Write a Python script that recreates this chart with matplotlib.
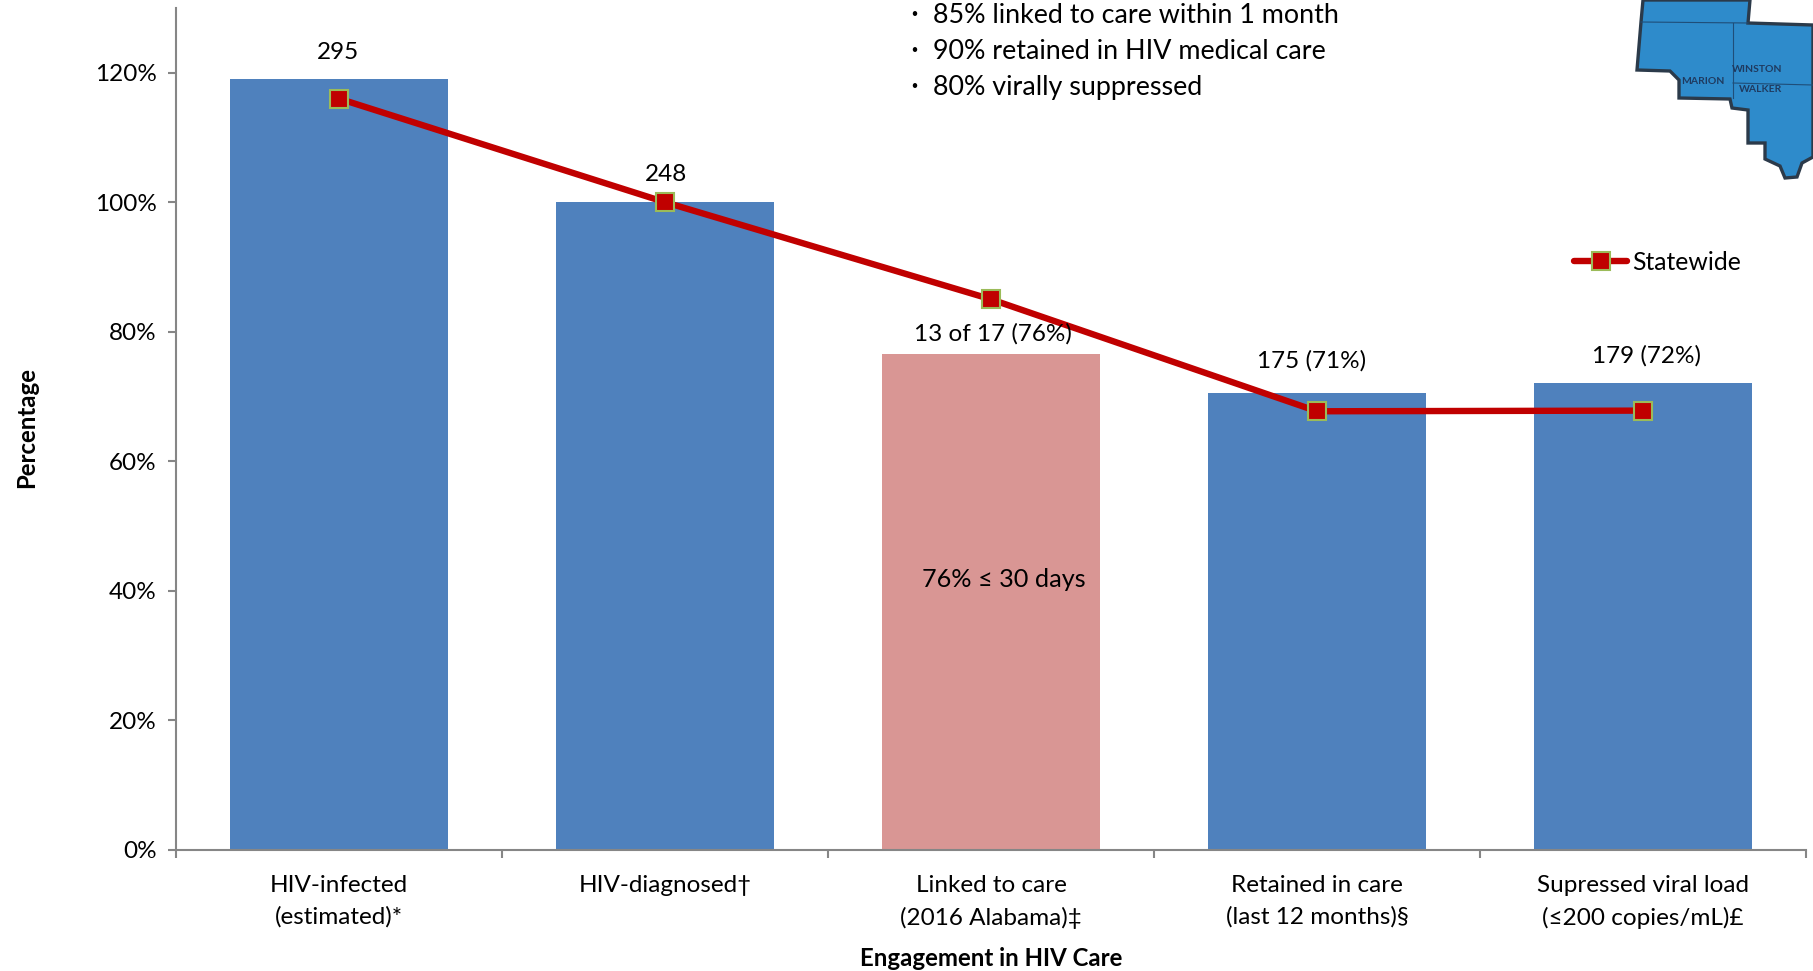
import matplotlib
matplotlib.use('Agg')
import matplotlib.pyplot as plt
from matplotlib.patches import Polygon
from matplotlib.lines import Line2D

plt.rcParams['font.family'] = ['Lato', 'DejaVu Sans']

W, H = 1813, 971

# -------------------------------------
# Data
# -------------------------------------
categories = ['HIV-infected\n(estimated)*', 'HIV-diagnosed\u2020\n ',
              'Linked to care\n(2016 Alabama)\u2021',
              'Retained in care\n(last 12 months)\u00a7',
              'Supressed viral load\n(\u2264200 copies/mL)\u00a3']
bar_values = [119, 100, 76.5, 70.5, 72]
bar_colors = ['#4F81BD', '#4F81BD', '#D99694', '#4F81BD', '#4F81BD']
statewide = [116, 100, 85, 67.7, 67.8]
bar_labels = ['295', '248', '13 of 17 (76%)', '175 (71%)', '179 (72%)']
label_x = [-0.004, 1.002, 2.006, 2.984, 4.012]
label_y = [123.1, 104.3, 79.6, 75.5, 76.3]
yticks = [0, 20, 40, 60, 80, 100, 120]
goals = ['85% linked to care within 1 month',
         '90% retained in HIV medical care',
         '80% virally suppressed']

# map outline traced in full size picture pixels
map_outline = [(1643, 0), (1641, 22), (1637, 70), (1670, 71), (1679, 80), (1679, 98),
               (1730, 99), (1732, 108), (1748, 110), (1748, 143), (1765, 143),
               (1765, 159), (1780, 166), (1785, 178), (1797, 177), (1802, 163),
               (1813, 157), (1813, 25), (1748, 23), (1750, 0)]
map_lines = [[(1641, 22), (1748, 23)],
             [(1733, 23), (1733, 98)],
             [(1733, 83), (1813, 85)]]
map_names = [('MARION', 1703, 82), ('WINSTON', 1757, 70), ('WALKER', 1761, 89)]

GRAY = '#868686'

fig = plt.figure(figsize=(W / 100, H / 100), dpi=100)
ax = fig.add_axes([176 / W, 1 - 849.5 / H, 1630 / W, 841.5 / H])

x = range(len(categories))
ax.bar(x, bar_values, width=0.667, color=bar_colors, zorder=2)
ax.plot(x, statewide, color='#C00000', lw=4.6, marker='s', ms=13.5,
        mfc='#C00000', mec='#9BBB59', mew=1.5, solid_capstyle='round', zorder=3)

for lx, ly, s in zip(label_x, label_y, bar_labels):
    ax.text(lx, ly, s, ha='center', va='center', fontsize=17.5, color='black', zorder=4)
ax.text(2.04, 41.7, '76% \u2264 30 days', ha='center', va='center', fontsize=18.2, color='black', zorder=4)

ax.set_xlim(-0.5, 4.5)
ax.set_ylim(0, 130)
ax.set_yticks(yticks)
ax.set_yticklabels(['{}%'.format(v) for v in yticks], fontsize=17.5)
ax.set_xticks([i - 0.5 for i in range(6)])
ax.set_xticklabels([])
ax.tick_params(axis='both', color=GRAY, width=1.5, length=6)
ax.tick_params(axis='y', pad=8)
for i, c in enumerate(categories):
    ax.annotate(c, (i, 0), xytext=(0, -18), textcoords='offset points', ha='center', va='top',
                fontsize=17.5, linespacing=1.62, annotation_clip=False)
for s in ['top', 'right']:
    ax.spines[s].set_visible(False)
for s in ['left', 'bottom']:
    ax.spines[s].set_color(GRAY)
    ax.spines[s].set_linewidth(1.5)

ax.set_xlabel('Engagement in HIV Care', fontweight='bold', fontsize=17.3)
ax.xaxis.set_label_coords(0.5, -0.116)
ax.set_ylabel('Percentage', fontweight='bold', fontsize=17.3, va='center')
ax.yaxis.set_label_coords(-0.0915, 0.502)

# overlay in picture pixels for the goals text and the map
over = fig.add_axes([0, 0, 1, 1], facecolor='none')
over.set_xlim(0, W)
over.set_ylim(H, 0)
over.axis('off')

for i, g in enumerate(goals):
    over.text(914, 14 + i * 36, '\u00b7', ha='center', va='center', fontsize=22)
    over.text(933, 15.5 + i * 36, g, ha='left', va='center', fontsize=19.4)

over.add_patch(Polygon(map_outline, closed=True, fc='#2E8BCB', ec='#2B3A4A', lw=2.4, zorder=2))
for seg in map_lines:
    xs, ys = zip(*seg)
    over.plot(xs, ys, color='#1F4E79', lw=0.8, zorder=3)
for name, mx, my in map_names:
    over.text(mx, my, name, ha='center', va='center', fontsize=7.5, color='#1F3A5F',
              fontweight='bold', zorder=4)

handle = Line2D([], [], color='#C00000', lw=4.6, marker='s', ms=13.5, mfc='#C00000',
                mec='#9BBB59', mew=1.5, solid_capstyle='round')
fig.legend([handle], ['Statewide'], loc='center left', bbox_to_anchor=(1574 / W, 1 - 262 / H),
           frameon=False, fontsize=17.8, handlelength=2.15, handletextpad=0.2,
           borderpad=0, borderaxespad=0)

fig.savefig('out.png', dpi=100)
